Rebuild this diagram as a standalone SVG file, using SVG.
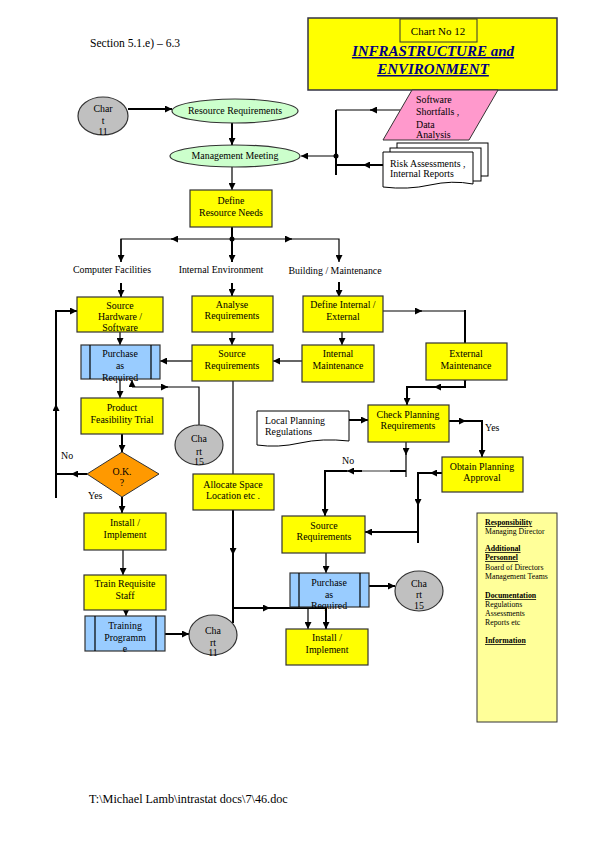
<svg xmlns="http://www.w3.org/2000/svg" width="595" height="842" viewBox="0 0 595 842">
<style>
.bx{fill:#ffff00;stroke:#333;stroke-width:1.2}
.pr{fill:#99ccff;stroke:#333;stroke-width:1.2}
.ci{fill:#c0c0c0;stroke:#333;stroke-width:1.2}
.ov{fill:#ccffcc;stroke:#333;stroke-width:1.2}
.t{font-family:"Liberation Serif","Times New Roman",serif;font-size:9.9px;fill:#000;text-anchor:middle}
.tl{font-family:"Liberation Serif","Times New Roman",serif;font-size:9.9px;fill:#000}
.s{font-family:"Liberation Serif","Times New Roman",serif;font-size:7.8px;fill:#000}
.sb{font-weight:bold;text-decoration:underline}
.ln{stroke:#000;stroke-width:1.2;fill:none}
.tk{stroke-width:2}
</style>
<defs>
<marker id="a" viewBox="0 0 10 10" refX="10" refY="5" markerWidth="7" markerHeight="7" markerUnits="userSpaceOnUse" orient="auto"><path d="M0,0 L10,5 L0,10 z" fill="#000"/></marker>
</defs>
<rect width="595" height="842" fill="#fff"/>

<text x="90" y="47" font-family="Liberation Serif, serif" font-size="11.6">Section 5.1.e) – 6.3</text>
<text x="89" y="803" font-family="Liberation Serif, serif" font-size="12.2">T:\Michael Lamb\intrastat docs\7\46.doc</text>

<g id="title">
<rect x="308" y="18" width="249" height="72" fill="#ffff00" stroke="#334" stroke-width="1.5"/>
<rect x="400" y="19" width="77" height="23" fill="#ffff00" stroke="#333" stroke-width="1"/>
<text x="438" y="35" font-family="Liberation Serif, serif" font-size="11" text-anchor="middle">Chart No 12</text>
<text x="433" y="56" font-family="Liberation Serif, serif" font-size="15" font-weight="bold" font-style="italic" text-decoration="underline" fill="#000080" text-anchor="middle">INFRASTRUCTURE and</text>
<text x="433" y="74" font-family="Liberation Serif, serif" font-size="15" font-weight="bold" font-style="italic" text-decoration="underline" fill="#000080" text-anchor="middle">ENVIRONMENT</text>
</g>

<g id="connectors">
<path class="ln tk" d="M128,109 H172" marker-end="url(#a)"/>
<path class="ln tk" d="M232,123 V145" marker-end="url(#a)"/>
<path class="ln" d="M232,167 V190" marker-end="url(#a)"/>
<path class="ln" d="M400,110 H336"/><path class="ln" d="M375,110 H370" marker-end="url(#a)"/>
<path class="ln tk" d="M336,110 V175"/>
<path class="ln tk" d="M383,165 H336"/><path class="ln" d="M368,165 H363" marker-end="url(#a)"/>
<path class="ln" d="M336,156 H301" marker-end="url(#a)"/>
<circle cx="336" cy="156" r="2.5"/>
<path class="ln tk" d="M232,227 V262" marker-end="url(#a)"/>
<circle cx="232" cy="239" r="2.5"/>
<path class="ln" d="M121,262 V239 H339 V262" marker-end="url(#a)"/>
<path class="ln" d="M121,239 V262" marker-end="url(#a)"/>
<path class="ln" d="M177,239 H171" marker-end="url(#a)"/>
<path class="ln" d="M286,239 H292" marker-end="url(#a)"/>
<path class="ln tk" d="M121,283 V297" marker-end="url(#a)"/>
<path class="ln tk" d="M232,283 V296" marker-end="url(#a)"/>
<path class="ln tk" d="M339,282 V297" marker-end="url(#a)"/>
<path class="ln" d="M383,311 H465"/><path class="ln tk" d="M465,310 V343"/>
<path class="ln" d="M416,311 H422" marker-end="url(#a)"/>
<path class="ln" d="M342,332 V345" marker-end="url(#a)"/>
<path class="ln" d="M302,361 H273" marker-end="url(#a)"/>
<path class="ln" d="M232,332 V345" marker-end="url(#a)"/>
<path class="ln" d="M192,361 H160" marker-end="url(#a)"/>
<path class="ln" d="M120,332 V345" marker-end="url(#a)"/>
<path class="ln" d="M120,379 V398" marker-end="url(#a)"/>
<path class="ln" d="M132,387 H199 V432" marker-end="url(#a)"/>
<path class="ln" d="M132,387 V380" marker-end="url(#a)"/>
<path class="ln" d="M162,387 H168" marker-end="url(#a)"/>
<path class="ln tk" d="M122,434 V452" marker-end="url(#a)"/>
<path class="ln tk" d="M87,474 H56"/><path class="ln" d="M77,474 H71" marker-end="url(#a)"/>
<path class="ln tk" d="M56,498 V311 H77" marker-end="url(#a)"/>
<path class="ln" d="M56,410 V404" marker-end="url(#a)"/>
<path class="ln tk" d="M122,497 V513" marker-end="url(#a)"/>
<path class="ln" d="M123,550 V575" marker-end="url(#a)"/>
<path class="ln" d="M126,610 V616" marker-end="url(#a)"/>
<path class="ln tk" d="M165,634 H189" marker-end="url(#a)"/>
<path class="ln" d="M233,381 V474"/>
<path class="ln tk" d="M233,510 V623"/>
<path class="ln" d="M233,549 V555" marker-end="url(#a)"/>
<path class="ln tk" d="M233,608 H326"/>
<path class="ln" d="M264,608 H270" marker-end="url(#a)"/>
<path class="ln" d="M308,608 V629" marker-end="url(#a)"/>
<path class="ln" d="M326,553 V573" marker-end="url(#a)"/>
<path class="ln tk" d="M326,607 V629" marker-end="url(#a)"/>
<path class="ln tk" d="M369,586 H395" marker-end="url(#a)"/>
<path class="ln tk" d="M465,380 V387 H407 V405" marker-end="url(#a)"/>
<path class="ln" d="M465,376 V383" marker-end="url(#a)"/>
<path class="ln" d="M440,387 H434" marker-end="url(#a)"/>
<path class="ln tk" d="M349,420 H368" marker-end="url(#a)"/>
<path class="ln tk" d="M449,421 H482 V457" marker-end="url(#a)"/>
<path class="ln" d="M460,421 H466" marker-end="url(#a)"/>
<path class="ln" d="M406,442 V477"/>
<path class="ln" d="M406,449 V455" marker-end="url(#a)"/>
<path class="ln tk" d="M406,471 H390"/><path d="M390,471 H362" stroke="#999" stroke-width="2" fill="none"/>
<path class="ln tk" d="M362,471 H325 V516" marker-end="url(#a)"/>
<path d="M353,471 H347" stroke="#888" stroke-width="1.2" fill="none" marker-end="url(#a)"/>
<path class="ln tk" d="M442,473 H418 V543"/>
<path class="ln" d="M436,473 H430" marker-end="url(#a)"/>
<path class="ln" d="M418,500 V506" marker-end="url(#a)"/>
<path class="ln tk" d="M418,532 H365" marker-end="url(#a)"/>
</g>

<g id="chart11top"><ellipse class="ci" cx="103" cy="116" rx="25" ry="19"/>
<text class="t" x="103" y="112" font-size="9">Char</text><text class="t" x="103" y="124" font-size="9">t</text><text class="t" x="103" y="135" font-size="9">11</text></g>
<g id="resreq"><ellipse class="ov" cx="235" cy="111" rx="63" ry="12"/><text class="t" x="235" y="114">Resource Requirements</text></g>
<g id="mgmt"><ellipse class="ov" cx="235" cy="156" rx="65" ry="11"/><text class="t" x="235" y="159">Management Meeting</text></g>

<g id="software"><path d="M412,90 H498 L469,140 H383 Z" fill="#ff99cc" stroke="#333" stroke-width="1"/>
<text class="tl" x="416" y="103" font-size="9">Software</text><text class="tl" x="416" y="115" font-size="9">Shortfalls ,</text><text class="tl" x="416" y="128" font-size="9">Data</text><text class="tl" x="416" y="138" font-size="9">Analysis</text></g>

<g id="riskdocs">
<rect x="397" y="143" width="91" height="33" fill="#fff" stroke="#000" stroke-width="1"/>
<rect x="390" y="148" width="91" height="33" fill="#fff" stroke="#000" stroke-width="1"/>
<path d="M383,152 H473 V184 Q452,180 430,185 T383,187 Z" fill="#fff" stroke="#000" stroke-width="1"/>
<text class="tl" x="390" y="167" font-size="9.3">Risk Assessments ,</text><text class="tl" x="390" y="177" font-size="9.3">Internal Reports</text></g>

<g id="define"><rect class="bx" x="190" y="190" width="82" height="37"/><text class="t" x="231" y="204">Define</text><text class="t" x="231" y="216">Resource Needs</text></g>

<text class="t" x="112" y="273">Computer Facilities</text>
<text class="t" x="221" y="273">Internal Environment</text>
<text class="t" x="335" y="274">Building / Maintenance</text>

<g id="srchw"><rect class="bx" x="77" y="297" width="86" height="35"/><text class="t" x="120" y="309">Source</text><text class="t" x="120" y="320">Hardware /</text><text class="t" x="120" y="331">Software</text></g>
<g id="analyse"><rect class="bx" x="192" y="296" width="81" height="36"/><text class="t" x="232" y="308">Analyse</text><text class="t" x="232" y="319">Requirements</text></g>
<g id="defint"><rect class="bx" x="303" y="296" width="80" height="36"/><text class="t" x="343" y="308">Define Internal /</text><text class="t" x="343" y="320">External</text></g>
<g id="extmaint"><rect class="bx" x="426" y="343" width="81" height="37"/><text class="t" x="466" y="357">External</text><text class="t" x="466" y="369">Maintenance</text></g>
<g id="intmaint"><rect class="bx" x="302" y="345" width="72" height="37"/><text class="t" x="338" y="357">Internal</text><text class="t" x="338" y="369">Maintenance</text></g>
<g id="srcreq1"><rect class="bx" x="192" y="345" width="81" height="36"/><text class="t" x="232" y="357">Source</text><text class="t" x="232" y="369">Requirements</text></g>
<g id="purch1"><rect class="pr" x="81" y="345" width="79" height="34"/><path class="ln" d="M90,345 V379 M151,345 V379" stroke="#333"/>
<text class="t" x="120" y="357">Purchase</text><text class="t" x="120" y="369">as</text><text class="t" x="120" y="381">Required</text></g>
<g id="chart15a"><ellipse class="ci" cx="199" cy="445" rx="24" ry="20"/><text class="t" x="199" y="442" font-size="9">Cha</text><text class="t" x="199" y="455" font-size="9">rt</text><text class="t" x="199" y="465" font-size="9">15</text></g>
<g id="feas"><rect class="bx" x="81" y="398" width="82" height="36"/><text class="t" x="122" y="411">Product</text><text class="t" x="122" y="423">Feasibility Trial</text></g>
<g id="ok"><path d="M122,452 L159,474 L122,497 L87,474 Z" fill="#ff9900" stroke="#333" stroke-width="1"/><text class="t" x="122" y="475">O.K.</text><text class="t" x="122" y="486">?</text></g>
<text class="tl" x="61" y="459">No</text>
<text class="tl" x="88" y="499">Yes</text>
<g id="install1"><rect class="bx" x="84" y="513" width="82" height="37"/><text class="t" x="125" y="526">Install /</text><text class="t" x="125" y="538">Implement</text></g>
<g id="train"><rect class="bx" x="84" y="575" width="82" height="35"/><text class="t" x="125" y="587">Train Requisite</text><text class="t" x="125" y="599">Staff</text></g>
<g id="trainprog"><rect class="pr" x="85" y="616" width="80" height="35"/><path class="ln" d="M95,616 V651 M156,616 V651" stroke="#333"/>
<text class="t" x="125" y="629">Training</text><text class="t" x="125" y="641">Programm</text><text class="t" x="125" y="652">e</text></g>
<g id="chart11b"><ellipse class="ci" cx="213" cy="635" rx="24" ry="20"/><text class="t" x="213" y="634" font-size="9">Cha</text><text class="t" x="213" y="646" font-size="9">rt</text><text class="t" x="213" y="656" font-size="9">11</text></g>
<g id="alloc"><rect class="bx" x="193" y="474" width="81" height="36"/><text class="t" x="233" y="488">Allocate Space</text><text class="t" x="233" y="499">Location etc .</text></g>
<g id="localplan"><path d="M257,411 H349 V441 Q322,438 300,443 T257,445 Z" fill="#fff" stroke="#000" stroke-width="1"/>
<text class="tl" x="265" y="424">Local Planning</text><text class="tl" x="265" y="435">Regulations</text></g>
<g id="checkplan"><rect class="bx" x="368" y="405" width="81" height="37"/><text class="t" x="408" y="418">Check Planning</text><text class="t" x="408" y="429">Requirements</text></g>
<text class="tl" x="485" y="431">Yes</text>
<text class="tl" x="342" y="464">No</text>
<g id="obtain"><rect class="bx" x="442" y="457" width="81" height="35"/><text class="t" x="482" y="470">Obtain Planning</text><text class="t" x="482" y="481">Approval</text></g>
<g id="srcreq2"><rect class="bx" x="282" y="516" width="83" height="37"/><text class="t" x="324" y="529">Source</text><text class="t" x="324" y="540">Requirements</text></g>
<g id="purch2"><rect class="pr" x="290" y="573" width="79" height="34"/><path class="ln" d="M299,573 V607 M360,573 V607" stroke="#333"/>
<text class="t" x="329" y="586">Purchase</text><text class="t" x="329" y="598">as</text><text class="t" x="329" y="609">Required</text></g>
<g id="chart15b"><ellipse class="ci" cx="419" cy="591" rx="24" ry="20"/><text class="t" x="419" y="587" font-size="9">Cha</text><text class="t" x="419" y="598" font-size="9">rt</text><text class="t" x="419" y="609" font-size="9">15</text></g>
<g id="install2"><rect class="bx" x="286" y="629" width="82" height="36"/><text class="t" x="327" y="641">Install /</text><text class="t" x="327" y="653">Implement</text></g>

<g id="info"><rect x="477" y="513" width="80" height="209" fill="#ffff99" stroke="#333" stroke-width="1"/>
<text class="s sb" x="485" y="525">Responsibility</text>
<text class="s" x="485" y="534">Managing Director</text>
<text class="s sb" x="485" y="551">Additional</text>
<text class="s sb" x="485" y="560">Personnel</text>
<text class="s" x="485" y="570">Board of Directors</text>
<text class="s" x="485" y="579">Management Teams</text>
<text class="s sb" x="485" y="598">Documentation</text>
<text class="s" x="485" y="607">Regulations</text>
<text class="s" x="485" y="616">Assessments</text>
<text class="s" x="485" y="625">Reports etc</text>
<text class="s sb" x="485" y="643">Information</text>
</g>
</svg>
